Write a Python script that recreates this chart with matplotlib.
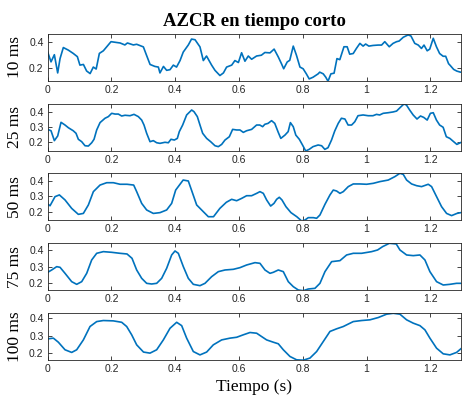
import matplotlib
matplotlib.use("Agg")
import matplotlib.pyplot as plt

# ---- data ----
t10 = [0, 0.0104, 0.0209, 0.0313, 0.0387, 0.049, 0.0648, 0.080, 0.093, 0.101, 0.112, 0.122, 0.133, 0.143, 0.152,
       0.162, 0.1745, 0.1985, 0.227, 0.242, 0.250, 0.2685, 0.279, 0.300, 0.310, 0.321, 0.336, 0.347, 0.352, 0.363,
       0.373, 0.3835, 0.394, 0.404, 0.415, 0.425, 0.441, 0.451, 0.462, 0.4775, 0.488, 0.498, 0.514, 0.5245, 0.540,
       0.551, 0.561, 0.577, 0.587, 0.598, 0.608, 0.6185, 0.629, 0.6395, 0.655, 0.670, 0.681, 0.697, 0.710, 0.723,
       0.733, 0.740, 0.751, 0.759, 0.770, 0.780, 0.791, 0.801, 0.811, 0.820, 0.832, 0.848, 0.853, 0.864, 0.872,
       0.879, 0.888, 0.898, 0.907, 0.916, 0.929, 0.939, 0.947, 0.958, 0.968, 0.979, 0.989, 0.997, 1.007, 1.020,
       1.036, 1.047, 1.057, 1.071, 1.083, 1.094, 1.102, 1.115, 1.130, 1.139, 1.151, 1.162, 1.172, 1.180, 1.190,
       1.198, 1.209, 1.219, 1.229, 1.240, 1.248, 1.257, 1.262, 1.273, 1.283, 1.294, 1.30]
v10 = [0.32, 0.245, 0.30, 0.16, 0.27, 0.355, 0.335, 0.31, 0.285, 0.22, 0.225, 0.175, 0.155, 0.205, 0.19,
       0.31, 0.33, 0.40, 0.39, 0.375, 0.39, 0.375, 0.38, 0.36, 0.295, 0.225, 0.21, 0.205, 0.16, 0.21,
       0.18, 0.185, 0.22, 0.205, 0.255, 0.32, 0.375, 0.42, 0.415, 0.36, 0.255, 0.29, 0.22, 0.18, 0.14,
       0.16, 0.205, 0.22, 0.255, 0.24, 0.315, 0.25, 0.29, 0.265, 0.29, 0.296, 0.317, 0.314, 0.343, 0.283,
       0.231, 0.192, 0.244, 0.257, 0.366, 0.296, 0.205, 0.192, 0.153, 0.114, 0.127, 0.153, 0.166, 0.153, 0.127,
       0.096, 0.153, 0.158, 0.270, 0.262, 0.361, 0.361, 0.304, 0.309, 0.348, 0.387, 0.366, 0.382, 0.366, 0.371,
       0.374, 0.374, 0.400, 0.361, 0.387, 0.400, 0.405, 0.434, 0.452, 0.444, 0.387, 0.374, 0.348, 0.374, 0.330,
       0.343, 0.426, 0.361, 0.309, 0.288, 0.288, 0.231, 0.218, 0.187, 0.174, 0.166, 0.166]

t25 = [0, 0.0104, 0.0209, 0.0313, 0.0418, 0.0543, 0.0648, 0.080, 0.0888, 0.0961, 0.1066, 0.117, 0.1275, 0.138,
       0.1453, 0.1536, 0.1641, 0.1797, 0.1902, 0.2006, 0.2111, 0.2215, 0.232, 0.2424, 0.2581, 0.2706, 0.2842,
       0.2947, 0.3020, 0.3103, 0.3208, 0.3312, 0.3417, 0.3521, 0.3678, 0.3783, 0.3866, 0.3971, 0.4065, 0.4127,
       0.4232, 0.4357, 0.4514, 0.4587, 0.4692, 0.4775, 0.4859, 0.4984, 0.5110, 0.5246, 0.5350, 0.5455, 0.5559,
       0.5695, 0.5799, 0.5925, 0.6029, 0.6134, 0.6238, 0.6395, 0.655, 0.665, 0.674, 0.681, 0.691, 0.702,
       0.712, 0.723, 0.731, 0.744, 0.754, 0.761, 0.770, 0.778, 0.789, 0.799, 0.809, 0.820, 0.832, 0.848,
       0.859, 0.869, 0.879, 0.890, 0.900, 0.911, 0.921, 0.932, 0.942, 0.953, 0.963, 0.973, 0.989, 1.005,
       1.020, 1.031, 1.041, 1.052, 1.068, 1.083, 1.094, 1.106, 1.117, 1.125, 1.135, 1.146, 1.158, 1.169,
       1.179, 1.190, 1.200, 1.209, 1.219, 1.229, 1.240, 1.250, 1.261, 1.273, 1.283, 1.294, 1.30]
v25 = [0.282, 0.273, 0.207, 0.238, 0.329, 0.311, 0.293, 0.273, 0.256, 0.216, 0.20, 0.173, 0.171, 0.193,
       0.216, 0.278, 0.327, 0.356, 0.367, 0.389, 0.384, 0.384, 0.371, 0.376, 0.373, 0.382,
       0.367, 0.344, 0.311, 0.256, 0.20, 0.207, 0.193, 0.189, 0.196, 0.193, 0.216, 0.211, 0.222, 0.267,
       0.311, 0.378, 0.411, 0.40, 0.367, 0.311, 0.256, 0.222, 0.20, 0.173, 0.167, 0.182, 0.211,
       0.233, 0.282, 0.278, 0.278, 0.262, 0.273, 0.282, 0.311, 0.311, 0.30, 0.316, 0.322, 0.340,
       0.322, 0.262, 0.222, 0.244, 0.267, 0.327, 0.30, 0.244, 0.216, 0.178, 0.138, 0.149, 0.167, 0.178,
       0.173, 0.149, 0.16, 0.211, 0.271, 0.322, 0.356, 0.351, 0.311, 0.311, 0.333, 0.373, 0.378, 0.373,
       0.373, 0.382, 0.378, 0.389, 0.393, 0.398, 0.404, 0.429, 0.451, 0.444, 0.411, 0.378, 0.351, 0.371,
       0.362, 0.344, 0.389, 0.393, 0.344, 0.311, 0.296, 0.233, 0.222, 0.20, 0.182, 0.193, 0.20]

t50 = [0, 0.0073, 0.0230, 0.0366, 0.0543, 0.0752, 0.0961, 0.1118, 0.1275, 0.1432, 0.1641, 0.1850, 0.2059,
       0.2268, 0.2487, 0.2696, 0.2790, 0.2947, 0.3103, 0.3312, 0.3521, 0.3730, 0.3887, 0.4013, 0.4248,
       0.4409, 0.4509, 0.4671, 0.4880, 0.5037, 0.5199, 0.5398, 0.5601, 0.5768, 0.5925, 0.6082, 0.6238,
       0.6395, 0.6552, 0.6656, 0.6761, 0.6865, 0.6991, 0.7095, 0.7179, 0.7262, 0.7346, 0.7471, 0.7628,
       0.7811, 0.7962, 0.8067, 0.8171, 0.8328, 0.8433, 0.8537, 0.8694, 0.8851, 0.8955, 0.9060, 0.9164,
       0.9269, 0.9425, 0.9582, 0.9791, 1.0, 1.0209, 1.0418, 1.0679, 1.0888, 1.1045, 1.1149, 1.1254, 1.1411,
       1.1567, 1.1724, 1.1933, 1.2038, 1.2194, 1.2351, 1.2508, 1.2665, 1.2832, 1.30]
v50 = [0.251, 0.24, 0.298, 0.309, 0.277, 0.223, 0.185, 0.191, 0.245, 0.330, 0.372, 0.387, 0.387,
       0.377, 0.377, 0.372, 0.330, 0.255, 0.213, 0.191, 0.196, 0.213, 0.255, 0.340, 0.404,
       0.398, 0.340, 0.245, 0.202, 0.170, 0.170, 0.223, 0.262, 0.281, 0.272, 0.287, 0.304,
       0.304, 0.319, 0.330, 0.319, 0.277, 0.238, 0.255, 0.281, 0.294, 0.277, 0.234, 0.196,
       0.170, 0.143, 0.149, 0.164, 0.164, 0.160, 0.181, 0.249, 0.309, 0.340, 0.334, 0.319,
       0.330, 0.362, 0.379, 0.379, 0.377, 0.383, 0.394, 0.404, 0.426, 0.447, 0.440, 0.404, 0.379,
       0.368, 0.362, 0.377, 0.362, 0.298, 0.234, 0.191, 0.177, 0.191, 0.198]

t75 = [0, 0.0125, 0.0282, 0.0387, 0.0543, 0.0752, 0.0909, 0.1066, 0.1223, 0.1379, 0.1536, 0.1745, 0.2006,
       0.2268, 0.2487, 0.2644, 0.2790, 0.2947, 0.3103, 0.3260, 0.3417, 0.3574, 0.3730, 0.3887, 0.3992,
       0.4096, 0.4253, 0.4409, 0.4566, 0.4775, 0.4932, 0.5141, 0.5350, 0.5559, 0.5820, 0.6029, 0.6238,
       0.6500, 0.6656, 0.6813, 0.6970, 0.7074, 0.7231, 0.7388, 0.7544, 0.7701, 0.7858, 0.8015, 0.8171,
       0.8380, 0.8537, 0.8694, 0.8903, 0.9164, 0.9373, 0.9582, 0.9843, 1.0157, 1.0345, 1.0502, 1.0715,
       1.0930, 1.1045, 1.1254, 1.1463, 1.1672, 1.1829, 1.1985, 1.2194, 1.2403, 1.2612, 1.2821, 1.30]
v75 = [0.266, 0.28, 0.30, 0.296, 0.26, 0.21, 0.194, 0.21, 0.26, 0.34, 0.38, 0.39, 0.386,
       0.38, 0.376, 0.35, 0.28, 0.23, 0.20, 0.196, 0.20, 0.23, 0.29, 0.37, 0.394,
       0.38, 0.30, 0.23, 0.194, 0.186, 0.20, 0.24, 0.27, 0.28, 0.284, 0.294, 0.31,
       0.324, 0.32, 0.28, 0.26, 0.266, 0.28, 0.27, 0.21, 0.18, 0.16, 0.156, 0.166,
       0.17, 0.20, 0.27, 0.33, 0.336, 0.37, 0.38, 0.38, 0.39, 0.40, 0.42, 0.44,
       0.436, 0.40, 0.37, 0.366, 0.37, 0.34, 0.27, 0.21, 0.19, 0.194, 0.20, 0.20]

t100 = [0, 0.0178, 0.0334, 0.0543, 0.0752, 0.0909, 0.1118, 0.1327, 0.1536, 0.1745, 0.2059, 0.2320, 0.2477,
        0.2633, 0.2790, 0.3004, 0.3208, 0.3417, 0.3626, 0.3835, 0.4044, 0.4201, 0.4357, 0.4566, 0.4775,
        0.4984, 0.5193, 0.5455, 0.5716, 0.5925, 0.6134, 0.6343, 0.6552, 0.6708, 0.6865, 0.7074, 0.7231,
        0.7388, 0.7597, 0.7806, 0.8015, 0.8224, 0.8433, 0.8642, 0.8851, 0.9060, 0.9269, 0.9582, 0.9843,
        1.0105, 1.0366, 1.0627, 1.0836, 1.1045, 1.1254, 1.1463, 1.1672, 1.1829, 1.1985, 1.2194, 1.2403,
        1.2612, 1.2821, 1.2978]
v100 = [0.283, 0.287, 0.264, 0.221, 0.206, 0.221, 0.277, 0.353, 0.381, 0.387, 0.385, 0.377, 0.353,
        0.306, 0.249, 0.208, 0.202, 0.221, 0.277, 0.343, 0.377, 0.358, 0.287, 0.211, 0.192,
        0.208, 0.249, 0.277, 0.287, 0.292, 0.306, 0.319, 0.315, 0.296, 0.277, 0.264, 0.255,
        0.221, 0.183, 0.164, 0.162, 0.174, 0.211, 0.268, 0.325, 0.34, 0.353, 0.381, 0.387,
        0.391, 0.404, 0.423, 0.428, 0.423, 0.391, 0.372, 0.358, 0.334, 0.287, 0.230, 0.198,
        0.192, 0.206, 0.230]

series_t = [t10, t25, t50, t75, t100]
series_v = [v10, v25, v50, v75, v100]
ylabels = ["10 ms", "25 ms", "50 ms", "75 ms", "100 ms"]
ylims = [(0.098, 0.459), (0.138, 0.451), (0.149, 0.447), (0.16, 0.44), (0.163, 0.428)]
yticks = [[0.2, 0.4], [0.2, 0.3, 0.4], [0.2, 0.3, 0.4], [0.2, 0.3, 0.4], [0.2, 0.3, 0.4]]
xticks = [0, 0.2, 0.4, 0.6, 0.8, 1.0, 1.2]
xticklabels = ["0", "0.2", "0.4", "0.6", "0.8", "1", "1.2"]
title = "AZCR en tiempo corto"
xlabel = "Tiempo (s)"

# ---- layout ----
W, H = 462, 397
fig = plt.figure(figsize=(W / 100, H / 100), dpi=100)
tops = [34, 104, 173.3, 243.3, 313.3]
bots = [81, 151, 220, 290, 360]
left_px, right_px = 47.7, 461
gray = "#262626"
serif = "Liberation Serif"
sans = "Liberation Sans"

axes = []
for i in range(5):
    ax = fig.add_axes([left_px / W, 1 - bots[i] / H, (right_px - left_px) / W, (bots[i] - tops[i]) / H])
    ax.plot(series_t[i], series_v[i], color="#0072BD", lw=1.2)
    ax.set_xlim(0, 1.296)
    ax.set_ylim(*ylims[i])
    ax.set_xticks(xticks)
    ax.set_xticklabels(xticklabels)
    ax.set_yticks(yticks[i])
    ax.set_yticklabels([f"{v:.1f}" for v in yticks[i]])
    ax.tick_params(direction="in", top=True, right=True, length=3, width=0.6,
                   colors=gray, labelsize=7.5, pad=3)
    for lab in ax.get_xticklabels() + ax.get_yticklabels():
        lab.set_fontfamily(sans)
    for sp in ax.spines.values():
        sp.set_color(gray)
        sp.set_linewidth(0.6)
    ax.set_ylabel(ylabels[i], fontfamily=serif, fontsize=12.5, color="black", labelpad=4)
    axes.append(ax)

fig.text((left_px + right_px) / 2 / W, 1 - 26 / H, title, ha="center", va="baseline",
         fontfamily=serif, fontweight="bold", fontsize=13.5)
fig.text((left_px + right_px) / 2 / W, 1 - 391 / H, xlabel, ha="center", va="baseline",
         fontfamily=serif, fontsize=12.5)

fig.savefig("out.png", dpi=100)
